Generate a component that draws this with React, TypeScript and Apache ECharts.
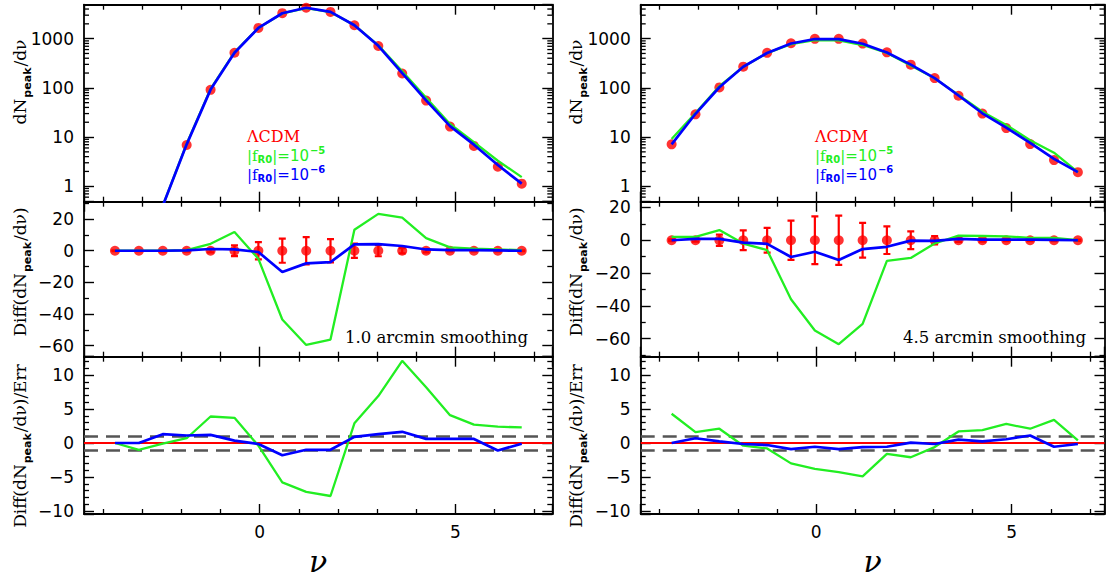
import React, { useEffect, useRef } from "react";
import * as echarts from "echarts";

// ---------- data ----------
const NU = [-3.69, -3.08, -2.47, -1.86, -1.25, -0.64, -0.03, 0.58, 1.19, 1.81, 2.42, 3.03, 3.64, 4.25, 4.86, 5.47, 6.08, 6.69];

// 1.0 arcmin smoothing
const L_LCDM = [0.004, 0.03, 0.4, 6.9, 91, 516, 1650, 3300, 4250, 3500, 1870, 710, 196, 55, 16.3, 6.6, 2.5, 1.13];
const L_F5 = [0.004, 0.03, 0.4, 7.3, 95.4, 528, 1645, 3257, 4190, 3444, 1883, 733, 217, 63, 18.4, 7.9, 3.3, 1.53];
const L_F6 = [0.004, 0.03, 0.4, 7.1, 92.1, 517, 1649, 3287, 4242, 3493, 1874, 714, 199, 55.8, 16.7, 7.0, 2.7, 1.13];
const L_D_LCDM = [0, 0, 0, 0, 0, 0, 0, 0, 0, 0, 0, 0, 0, 0, 0, 0, 0, 0];
const L_D_F5 = [0, 0, 0, 0.4, 4.4, 11.8, -5.1, -43.5, -59.6, -56.2, 13.3, 23.3, 20.9, 8.0, 2.1, 1.3, 0.8, 0.4];
const L_D_F6 = [0, 0, 0, 0.2, 1.1, 0.8, -0.8, -13.5, -8.0, -7.2, 4.0, 4.2, 3.0, 0.8, 0.4, 0.4, 0.2, 0];
const L_ERR = [0.3, 0.3, 0.4, 0.6, 1.1, 3.4, 5.5, 7.6, 8.6, 7.4, 4.5, 3.5, 1.7, 1.0, 0.5, 0.5, 0.4, 0.3];
const L_S_F5 = [0, -1.0, -0.1, 0.7, 3.9, 3.7, -0.4, -5.8, -7.2, -7.8, 2.9, 6.9, 12.1, 8.2, 4.1, 2.7, 2.4, 2.3];
const L_S_F6 = [0, 0, 1.3, 1.1, 1.2, 0.35, -0.15, -1.8, -1.0, -1.0, 0.9, 1.3, 1.65, 0.6, 0.6, 0.6, -1.1, -0.1];

// 4.5 arcmin smoothing
const R_LCDM = [7.1, 28.9, 102, 270, 514, 808, 990, 990, 794, 527, 296, 158, 69, 30, 15.2, 7.2, 3.4, 1.93];
const R_F5 = [9.1, 30.9, 108, 268, 508, 772, 935, 927, 743, 514, 285, 156, 71.8, 32.6, 17.6, 8.6, 4.8, 1.93];
const R_F6 = [7.1, 29.7, 102.8, 268.6, 512, 798, 983, 978, 789, 523, 296, 157.6, 69.8, 30.4, 15.6, 7.6, 3.6, 1.93];
const R_D_LCDM = [0, 0, 0, 0, 0, 0, 0, 0, 0, 0, 0, 0, 0, 0, 0, 0, 0, 0];
const R_D_F5 = [2, 2, 6.2, -2, -6, -36, -55, -63.4, -51, -12.6, -10.8, -2, 2.8, 2.6, 2.4, 1.4, 1.4, 0];
const R_D_F6 = [0, 0.8, 0.8, -1.4, -2.2, -10.2, -7, -12, -5.4, -4, -0.2, -0.4, 0.8, 0.4, 0.4, 0.4, 0.2, 0];
const R_ERR = [0.5, 0.8, 3.4, 6, 7.6, 12, 14.6, 15, 10.6, 8.4, 5.4, 2.6, 1.0, 0.8, 0.6, 0.5, 0.6, 0.4];
const R_S_F5 = [4.3, 1.6, 2.1, -0.4, -0.8, -3.0, -3.8, -4.3, -4.9, -1.6, -2.1, -0.6, 1.7, 1.9, 2.8, 2.1, 3.4, 0.4];
const R_S_F6 = [0, 0.7, 0.25, -0.15, -0.3, -0.9, -0.55, -0.9, -0.6, -0.55, 0.05, -0.15, 0.5, 0.25, 0.55, 1.1, -0.55, -0.15];

const LOG_MINOR = [0.6, 0.7, 0.8, 0.9, 2, 3, 4, 5, 6, 7, 8, 9, 20, 30, 40, 50, 60, 70, 80, 90, 200, 300, 400, 500, 600, 700, 800, 900, 2000, 3000, 4000];
const REF_ZERO = [0];
const REF_SIGMA = [-1, 1];
const SMOOTHING = ["1.0 arcmin smoothing", "4.5 arcmin smoothing"];
const LEGEND_MODEL = ["\u039BCDM", "|f", "R0", "|=10", "\u22125", "\u22126"];
const Y_TITLES = ["dN", "peak", "/d\u03BD", "Diff(", ")", ")/Err"];

// ---------- styles / layout ----------
const RED = "#ff0000";
const GREEN = "#22ee22";
const BLUE = "#0000ff";
const X_MIN = -4.48;
const COLS = [
  { left: 84, width: 468.3, xMax: 7.47 },
  { left: 640.7, width: 463.8, xMax: 7.37 },
];
const ROWS = [
  { top: 4.7, height: 197 },
  { top: 201.7, height: 155 },
  { top: 356.7, height: 157.3 },
];
const TOP_RANGE = [0.485, 4900];
const MID_RANGE = [
  [-67, 31],
  [-71, 23.5],
];
const BOT_RANGE = [-10.45, 12.7];

const COLUMN_DATA = [
  { lcdm: L_LCDM, f5: L_F5, f6: L_F6, dl: L_D_LCDM, d5: L_D_F5, d6: L_D_F6, err: L_ERR, s5: L_S_F5, s6: L_S_F6 },
  { lcdm: R_LCDM, f5: R_F5, f6: R_F6, dl: R_D_LCDM, d5: R_D_F5, d6: R_D_F6, err: R_ERR, s5: R_S_F5, s6: R_S_F6 },
];

const TICK_FONT = { color: "#000", fontFamily: "DejaVu Sans", fontSize: 17 };
const AX_LINE = { show: true, onZero: false, lineStyle: { color: "#000", width: 1.8 } };
const MAJOR = { show: true, inside: true, length: 10, lineStyle: { color: "#000", width: 1.4 } };
const minor = (n: number) => ({ show: true, splitNumber: n, length: 5, lineStyle: { color: "#000", width: 1.3 } });
const fmtNum = (v: number) => (v < 0 ? "\u2212" + Math.abs(v) : String(v));

function pairs(xs: number[], ys: number[]) {
  return xs.map((x, i) => [x, ys[i]]);
}

function makeX(g: number, pos: string, xMax: number, labels: boolean) {
  return {
    type: "value",
    gridIndex: g,
    position: pos,
    min: X_MIN,
    max: xMax,
    splitNumber: 2,
    axisLine: AX_LINE,
    axisTick: MAJOR,
    minorTick: minor(5),
    splitLine: { show: false },
    minorSplitLine: { show: false },
    axisLabel: labels
      ? { show: true, showMinLabel: false, showMaxLabel: false, margin: 9, formatter: fmtNum, ...TICK_FONT }
      : { show: false },
  };
}

function makeLinY(g: number, pos: string, rng: number[], minorSplit: number, labels: boolean) {
  return {
    type: "value",
    gridIndex: g,
    position: pos,
    min: rng[0],
    max: rng[1],
    splitNumber: 5,
    axisLine: AX_LINE,
    axisTick: MAJOR,
    minorTick: minor(minorSplit),
    splitLine: { show: false },
    minorSplitLine: { show: false },
    axisLabel: labels
      ? { show: true, showMinLabel: false, showMaxLabel: false, margin: 10, formatter: fmtNum, ...TICK_FONT }
      : { show: false },
  };
}

function makeLogY(g: number, pos: string, labels: boolean) {
  return {
    type: "log",
    logBase: 10,
    gridIndex: g,
    position: pos,
    min: TOP_RANGE[0],
    max: TOP_RANGE[1],
    axisLine: AX_LINE,
    axisTick: MAJOR,
    minorTick: { show: false },
    splitLine: { show: false },
    axisLabel: labels
      ? {
          show: true,
          showMinLabel: false,
          showMaxLabel: false,
          margin: 10,
          formatter: (v: number) => {
            const l = Math.log10(v);
            return Math.abs(l - Math.round(l)) < 1e-6 ? String(Math.round(v)) : "";
          },
          ...TICK_FONT,
        }
      : { show: false },
  };
}

function logMinorTicks(params: any, api: any) {
  const cs = params.coordSys;
  const y = api.coord([0, api.value(1)])[1];
  const st = { stroke: "#000", lineWidth: 1.3 };
  return {
    type: "group",
    children: [
      { type: "line", shape: { x1: cs.x, y1: y, x2: cs.x + 5, y2: y }, style: st },
      { type: "line", shape: { x1: cs.x + cs.width - 5, y1: y, x2: cs.x + cs.width, y2: y }, style: st },
    ],
  };
}

function errBar(params: any, api: any) {
  const x = api.value(0);
  const y = api.value(1);
  const e = api.value(2);
  const t = api.coord([x, y + e]);
  const b = api.coord([x, y - e]);
  const cap = 3.5;
  const st = { stroke: RED, lineWidth: 2.2 };
  return {
    type: "group",
    children: [
      { type: "line", shape: { x1: t[0], y1: t[1], x2: b[0], y2: b[1] }, style: st },
      { type: "line", shape: { x1: t[0] - cap, y1: t[1], x2: t[0] + cap, y2: t[1] }, style: st },
      { type: "line", shape: { x1: b[0] - cap, y1: b[1], x2: b[0] + cap, y2: b[1] }, style: st },
    ],
  };
}

function lineS(base: any, data: number[][], color: string, z: number, width: number) {
  return {
    ...base,
    type: "line",
    data,
    showSymbol: false,
    symbol: "none",
    clip: true,
    z,
    lineStyle: { color, width },
    itemStyle: { color },
  };
}

const TITLE_RICH = {
  n: { fontFamily: "DejaVu Serif", fontSize: 17, fill: "#000", verticalAlign: "top", padding: [0, 0, 0, 0] },
  s: { fontFamily: "DejaVu Sans", fontWeight: "bold", fontSize: 11, fill: "#000", verticalAlign: "top", padding: [11, 1, 0, 1] },
};

function legRich(color: string) {
  return {
    f: { fontFamily: "DejaVu Serif", fontSize: 15, fill: color, verticalAlign: "top", padding: [3, 0, 0, 0] },
    s: { fontFamily: "DejaVu Sans", fontWeight: "bold", fontSize: 10, fill: color, verticalAlign: "top", padding: [9, 0, 0, 0] },
    n: { fontFamily: "DejaVu Sans", fontSize: 15, fill: color, verticalAlign: "top", padding: [3, 0, 0, 0] },
    p: { fontFamily: "DejaVu Sans", fontWeight: "bold", fontSize: 10, fill: color, verticalAlign: "top", padding: [0, 0, 0, 1] },
  };
}

function buildGraphic() {
  const els: any[] = [];
  const [dN, peak, dnu, diffOpen, close, closeErr] = Y_TITLES;
  const titles = [
    { y: 82, text: `{n|${dN}}{s|${peak}}{n|${dnu}}` },
    { y: 272, text: `{n|${diffOpen}${dN}}{s|${peak}}{n|${dnu}${close}}` },
    { y: 446, text: `{n|${diffOpen}${dN}}{s|${peak}}{n|${dnu}${closeErr}}` },
  ];
  const titleX = [22, 578];
  const legX = [247, 815];
  const smoothX = [528, 1086];
  COLS.forEach((col, c) => {
    titles.forEach((t) => {
      els.push({
        type: "text",
        x: titleX[c],
        y: t.y,
        rotation: Math.PI / 2,
        style: { text: t.text, rich: TITLE_RICH, align: "center", verticalAlign: "middle", fill: "#000", fontSize: 17, fontFamily: "DejaVu Serif" },
      });
    });
    // legend
    els.push({
      type: "text",
      x: legX[c],
      y: 136,
      style: { text: LEGEND_MODEL[0], fill: RED, fontSize: 16, fontFamily: "DejaVu Serif", align: "left", verticalAlign: "middle" },
    });
    [
      { y: 155, color: GREEN, exp: LEGEND_MODEL[4] },
      { y: 174, color: BLUE, exp: LEGEND_MODEL[5] },
    ].forEach((l) => {
      els.push({
        type: "text",
        x: legX[c],
        y: l.y,
        style: {
          text: `{f|${LEGEND_MODEL[1]}}{s|${LEGEND_MODEL[2]}}{f||}{n|${LEGEND_MODEL[3].slice(1)}}{p|${l.exp}}`,
          rich: legRich(l.color),
          fill: l.color,
          fontSize: 15,
          align: "left",
          verticalAlign: "middle",
        },
      });
    });
    // smoothing
    els.push({
      type: "text",
      x: smoothX[c],
      y: 337,
      style: { text: SMOOTHING[c], fill: "#000", fontSize: 16.5, fontFamily: "DejaVu Serif", align: "right", verticalAlign: "middle" },
    });
    // x title
    els.push({
      type: "text",
      x: col.left + col.width / 2,
      y: 561,
      style: { text: "\u03BD", fill: "#000", fontSize: 30, fontStyle: "italic", fontFamily: "DejaVu Serif", align: "center", verticalAlign: "middle" },
    });
  });
  return els;
}

function buildOption() {
  const grid: any[] = [];
  const xAxis: any[] = [];
  const yAxis: any[] = [];
  const series: any[] = [];
  ROWS.forEach((row, r) => {
    COLS.forEach((col, c) => {
      const g = grid.length;
      grid.push({ left: col.left, top: row.top, width: col.width, height: row.height });
      const xi = xAxis.length;
      xAxis.push(makeX(g, "bottom", col.xMax, r === 2));
      xAxis.push(makeX(g, "top", col.xMax, false));
      const yi = yAxis.length;
      if (r === 0) {
        yAxis.push(makeLogY(g, "left", true));
        yAxis.push(makeLogY(g, "right", false));
      } else {
        const rng = r === 1 ? MID_RANGE[c] : BOT_RANGE;
        const ms = r === 1 ? 2 : 5;
        yAxis.push(makeLinY(g, "left", rng, ms, true));
        yAxis.push(makeLinY(g, "right", rng, ms, false));
      }
      const d = COLUMN_DATA[c];
      const base = { xAxisIndex: xi, yAxisIndex: yi };
      if (r === 0) {
        series.push({ ...base, type: "custom", renderItem: logMinorTicks, data: LOG_MINOR.map((v) => [0, v]), encode: { x: 0, y: 1 }, silent: true, z: 1 });
        series.push({ ...base, type: "scatter", data: pairs(NU, d.lcdm), symbol: "circle", symbolSize: 10, itemStyle: { color: RED }, clip: true, z: 3 });
        series.push(lineS(base, pairs(NU, d.f5), GREEN, 4, 2.3));
        series.push(lineS(base, pairs(NU, d.f6), BLUE, 5, 2.7));
      } else if (r === 1) {
        series.push({ ...base, type: "custom", renderItem: errBar, data: NU.map((x, i) => [x, d.dl[i], d.err[i]]), encode: { x: 0, y: 1 }, silent: true, clip: true, z: 2 });
        series.push({ ...base, type: "scatter", data: pairs(NU, d.dl), symbol: "circle", symbolSize: 10, itemStyle: { color: RED }, clip: true, z: 3 });
        series.push(lineS(base, pairs(NU, d.d5), GREEN, 4, 2.3));
        series.push(lineS(base, pairs(NU, d.d6), BLUE, 5, 2.7));
      } else {
        series.push({
          ...base,
          type: "line",
          data: [],
          z: 1,
          silent: true,
          markLine: {
            silent: true,
            z: 1,
            animation: false,
            symbol: ["none", "none"],
            label: { show: false },
            data: [
              ...REF_ZERO.map((v) => ({ yAxis: v, lineStyle: { color: RED, width: 2.2, type: "solid" } })),
              ...REF_SIGMA.map((v) => ({ yAxis: v, lineStyle: { color: "#555", width: 2.6, type: [14, 8] } })),
            ],
          },
        });
        series.push(lineS(base, pairs(NU, d.s5), GREEN, 4, 2.3));
        series.push(lineS(base, pairs(NU, d.s6), BLUE, 5, 2.7));
      }
    });
  });
  return {
    animation: false,
    backgroundColor: "#fff",
    textStyle: { fontFamily: "DejaVu Sans" },
    grid,
    xAxis,
    yAxis,
    series,
    graphic: buildGraphic(),
  };
}

export default function App() {
  const ref = useRef<HTMLDivElement>(null);
  useEffect(() => {
    const chart = echarts.init(ref.current as HTMLDivElement, null, { renderer: "svg" });
    chart.setOption(buildOption() as any);
    return () => chart.dispose();
  }, []);
  return (
    <div
      ref={ref}
      style={{ position: "absolute", left: 0, top: 0, width: 1107, height: 579, background: "#fff" }}
    />
  );
}
